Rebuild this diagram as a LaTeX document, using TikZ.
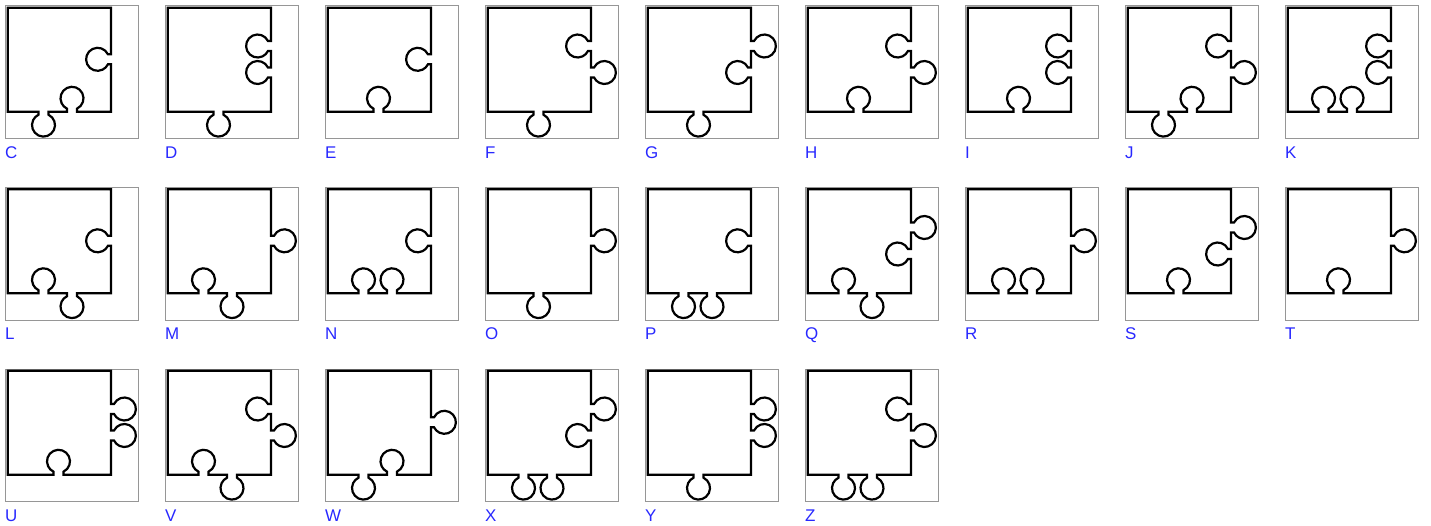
\documentclass[tikz,border=0pt]{standalone}
\usepackage{fontspec}
\setmainfont{Liberation Sans}
\definecolor{lblblue}{RGB}{40,40,255}
\definecolor{framegray}{RGB}{150,150,150}
\def\Lx{7.7}
\def\T{-7.7}
\def\R{111}
\def\B{-111.7}
\tikzset{
  piece/.style={draw=black, line width=2.2bp},
  framebox/.style={draw=framegray, line width=1bp},
  lbl/.style={anchor=base west, inner sep=0pt, outer sep=0pt, text=lblblue, font=\fontsize{17}{20}\selectfont},
  rtab/.style={insert path={ -- (\R,#1+5) -- (\R+3.04,#1+5) arc[start angle=154.23, end angle=-154.23, radius=11.5] -- (\R,#1-5)}},
  rnotch/.style={insert path={ -- (\R,#1+5) -- (\R-3.04,#1+5) arc[start angle=25.77, end angle=334.23, radius=11.5] -- (\R,#1-5)}},
  btab/.style={insert path={ -- (#1+5,\B) -- (#1+5,\B-3.04) arc[start angle=64.23, end angle=-244.23, radius=11.5] -- (#1-5,\B)}},
  bnotch/.style={insert path={ -- (#1+5,\B) -- (#1+5,\B+3.04) arc[start angle=-64.23, end angle=244.23, radius=11.5] -- (#1-5,\B)}},
}
\newcommand\tile[5]{%
  \begin{scope}[shift={(#1*160,-#2*181.5)}]
    \draw[framebox] (5.5,-6) rectangle (138.2,-138.8);
    \draw[piece] (\Lx,\T) -- (\R,\T) [#4] -- (\R,\B) [#5] -- (\Lx,\B) -- cycle;
    \node[lbl] (lbl#3) at (5.2,-158.4) {#3};
  \end{scope}}
\begin{document}
\begin{tikzpicture}[x=1bp,y=1bp]
\useasboundingbox (0,0) rectangle (1431,-526);
% row 0
\tile{0}{0}{C}{rnotch=-59.3}{bnotch=72, btab=43.5}
\tile{1}{0}{D}{rnotch=-46, rnotch=-72.5}{btab=58.5}
\tile{2}{0}{E}{rnotch=-59.3}{bnotch=58.5}
\tile{3}{0}{F}{rnotch=-46, rtab=-72.5}{btab=58.5}
\tile{4}{0}{G}{rtab=-46, rnotch=-72.5}{btab=58.5}
\tile{5}{0}{H}{rnotch=-46, rtab=-72.5}{bnotch=58.5}
\tile{6}{0}{I}{rnotch=-46, rnotch=-72.5}{bnotch=58.5}
\tile{7}{0}{J}{rnotch=-46, rtab=-72.5}{bnotch=72, btab=43.5}
\tile{8}{0}{K}{rnotch=-46, rnotch=-72.5}{bnotch=72, bnotch=43.5}
% row 1
\tile{0}{1}{L}{rnotch=-59.3}{btab=72, bnotch=43.5}
\tile{1}{1}{M}{rtab=-59.3}{btab=72, bnotch=43.5}
\tile{2}{1}{N}{rnotch=-59.3}{bnotch=72, bnotch=43.5}
\tile{3}{1}{O}{rtab=-59.3}{btab=58.5}
\tile{4}{1}{P}{rnotch=-59.3}{btab=72, btab=43.5}
\tile{5}{1}{Q}{rtab=-46, rnotch=-72.5}{btab=72, bnotch=43.5}
\tile{6}{1}{R}{rtab=-59.3}{bnotch=72, bnotch=43.5}
\tile{7}{1}{S}{rtab=-46, rnotch=-72.5}{bnotch=58.5}
\tile{8}{1}{T}{rtab=-59.3}{bnotch=58.5}
% row 2
\tile{0}{2}{U}{rtab=-46, rtab=-72.5}{bnotch=58.5}
\tile{1}{2}{V}{rnotch=-46, rtab=-72.5}{btab=72, bnotch=43.5}
\tile{2}{2}{W}{rtab=-59.3}{bnotch=72, btab=43.5}
\tile{3}{2}{X}{rtab=-46, rnotch=-72.5}{btab=72, btab=43.5}
\tile{4}{2}{Y}{rtab=-46, rtab=-72.5}{btab=58.5}
\tile{5}{2}{Z}{rnotch=-46, rtab=-72.5}{btab=72, btab=43.5}
\end{tikzpicture}
\end{document}
